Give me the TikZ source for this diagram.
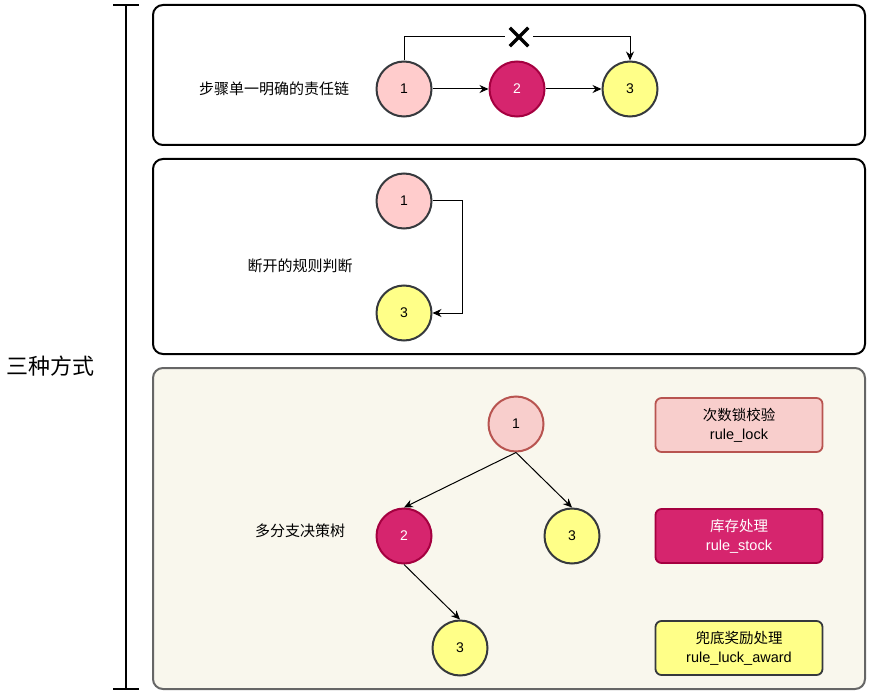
\documentclass[tikz,border=0pt]{standalone}
\usepackage{fontspec}
\setmainfont{Liberation Sans}
\newfontfamily\cjk{Noto Sans CJK SC}
\usetikzlibrary{arrows.meta,positioning,shapes.misc}
\definecolor{PinkFill}{HTML}{FFCCCC}
\definecolor{RedFill}{HTML}{F8CECC}
\definecolor{RedLine}{HTML}{B85450}
\definecolor{MagFill}{HTML}{D6256E}
\definecolor{MagLine}{HTML}{A50040}
\definecolor{YelFill}{HTML}{FFFF88}
\definecolor{DarkLine}{HTML}{36393D}
\definecolor{TreeBg}{HTML}{F9F7ED}

\begin{document}
\begin{tikzpicture}[
  x=1pt, y=-1pt,
  node distance=56pt,
  panel/.style={draw, rounded corners=10pt, line width=2pt},
  ball/.style={circle, draw=DarkLine, line width=2pt, minimum size=55pt, inner sep=0pt, font=\fontsize{14}{16}\selectfont},
  tag/.style={draw, rounded corners=6pt, line width=1.8pt, minimum width=167pt, minimum height=54pt, align=center, font=\cjk\fontsize{14.5}{19}\selectfont},
  caption/.style={font=\cjk\fontsize{15}{18}\selectfont},
  arrow/.style={-{Stealth[length=9pt,width=8pt]}, line width=1pt}
]
\useasboundingbox (0,0) rectangle (875,695);

% left bracket
\coordinate (btop) at (126,5);
\coordinate (bbot) at (126,689);
\draw[line width=2pt] (btop) -- (bbot);
\draw[line width=2pt] ([xshift=-13pt]btop) -- ([xshift=13pt]btop);
\draw[line width=2pt] ([xshift=-13pt]bbot) -- ([xshift=13pt]bbot);
\node[font=\cjk\fontsize{22}{26}\selectfont] (ways) at (50,366) {三种方式};

% panels
\draw[panel, fill=white] (153,5) rectangle (865,145);
\draw[panel, fill=white] (153,159) rectangle (865,354);
\draw[panel, draw=black!60, fill=TreeBg] (153,368) rectangle (865,689);

% chain
\node[caption] (chainlbl) at (274,89) {步骤单一明确的责任链};
\node[ball, fill=PinkFill] (a1) at (404,89) {1};
\node[ball, fill=MagFill, draw=MagLine, text=white, right=of a1] (a2) {2};
\node[ball, fill=YelFill, right=of a2] (a3) {3};
\node[cross out, draw, line width=3.5pt, minimum size=15pt, inner sep=0pt] (cross) at (519,37) {};
\draw[arrow] (a1) -- (a2);
\draw[arrow] (a2) -- (a3);
\draw[line width=1pt] (a1.north) |- ([xshift=-5pt]cross.west);
\draw[arrow] ([xshift=5pt]cross.east) -| (a3.north);

% broken
\node[caption] (breaklbl) at (300,266) {断开的规则判断};
\node[ball, fill=PinkFill] (b1) at (404,201) {1};
\node[ball, fill=YelFill] (b3) at (404,313) {3};
\draw[arrow] (b1.east) -- ++(30,0) |- (b3.east);

% tree
\node[caption] (treelbl) at (300,531) {多分支决策树};
\node[ball, fill=RedFill, draw=RedLine] (t1) at (516,424) {1};
\node[ball, fill=MagFill, draw=MagLine, text=white] (t2) at (404,536) {2};
\node[ball, fill=YelFill] (t3) at (572,536) {3};
\node[ball, fill=YelFill] (t4) at (460,648) {3};
\draw[arrow] (t1.south) -- (t2.north);
\draw[arrow] (t1.south) -- (t3.north);
\draw[arrow] (t2.south) -- (t4.north);

% legend
\node[tag, fill=RedFill, draw=RedLine] (lock) at (739,425) {次数锁校验\\\rmfamily rule\_lock};
\node[tag, fill=MagFill, draw=MagLine, text=white] (stock) at (739,536) {库存处理\\\rmfamily rule\_stock};
\node[tag, fill=YelFill, draw=DarkLine] (award) at (739,648) {兜底奖励处理\\\rmfamily rule\_luck\_award};
\end{tikzpicture}
\end{document}
